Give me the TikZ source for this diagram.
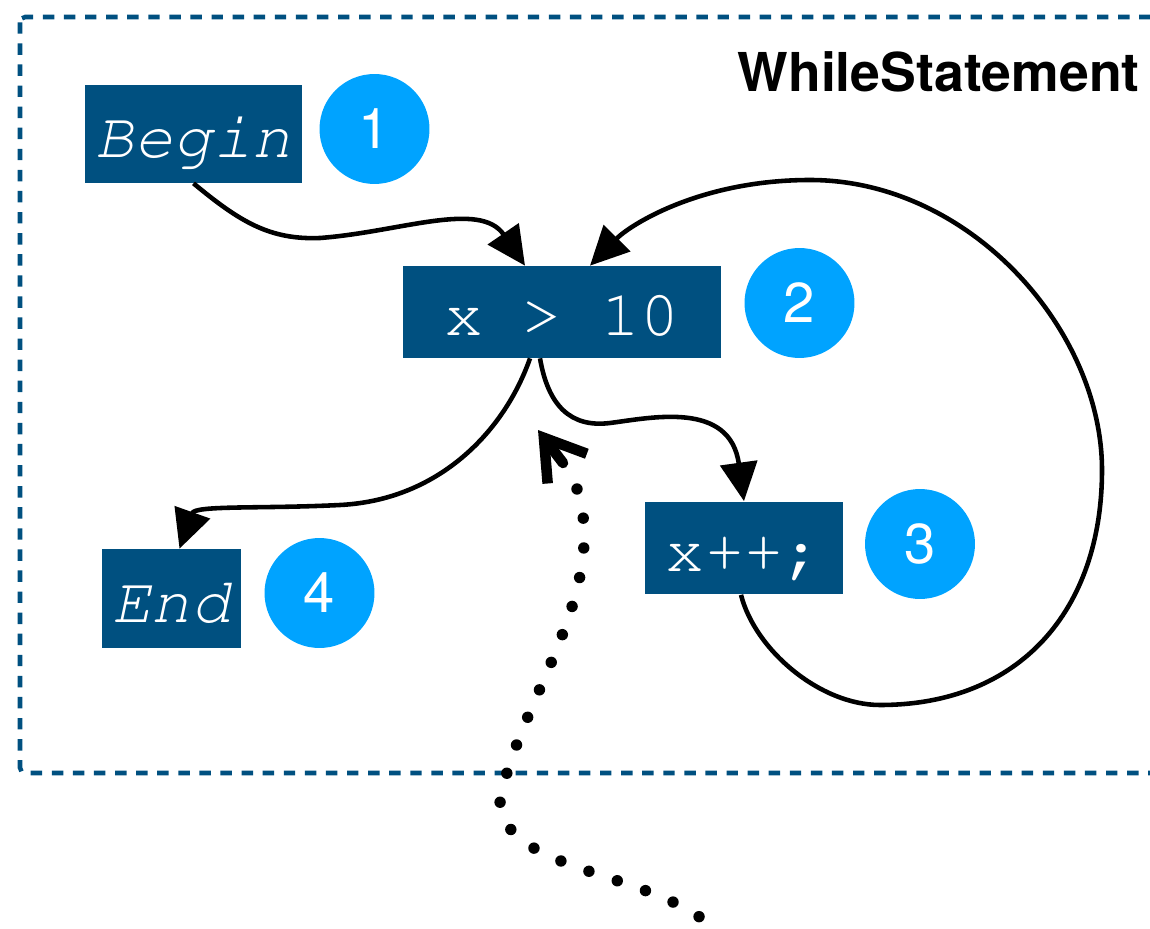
\documentclass[tikz,border=0pt]{standalone}
\usepackage[T1,TU]{fontenc}
\usepackage{fontspec}
\setmainfont{TeX Gyre Heros}
\usetikzlibrary{arrows.meta,calc}

\definecolor{boxblue}{RGB}{0,80,128}
\definecolor{numblue}{RGB}{0,163,255}

\newcommand{\stmtfont}{\fontencoding{T1}\fontfamily{pcr}\fontsize{37}{40}\selectfont}
\newcommand{\stepnumfont}{\fontsize{32}{36}\selectfont}
\newcommand{\scopefont}{\bfseries\fontsize{30.5}{34}\selectfont}

\tikzset{
  codebox/.style={fill=boxblue, text=white, inner sep=0pt, font=\stmtfont, text height=27pt, text depth=0pt},
  stepnum/.style={circle, fill=numblue, text=white, inner sep=0pt, minimum size=2.2cm, font=\stepnumfont},
  flow/.style={line width=2.6pt, -{Triangle[length=22pt,width=21pt]}},
  hint/.style={line width=6.5pt, line cap=round, dash pattern=on 0pt off 17pt},
  pointer/.style={line width=6pt, line cap=round, -{Straight Barb[length=22pt,width=28pt]}},
  frame/.style={boxblue, line width=2.6pt, dash pattern=on 6.5pt off 5.5pt, rounded corners=3pt}
}

\begin{document}
\begin{tikzpicture}[x=0.02cm,y=-0.02cm]
\useasboundingbox (0,0) rectangle (1150,929);

% Kehys
\draw[frame] (20,17) rectangle (1185,773);
\node[anchor=base east, inner sep=0pt, font=\scopefont] (scope) at (1140,92) {WhileStatement};

% Lauseet
\node[codebox, minimum width=4.34cm, minimum height=1.96cm] (Begin) at (193.5,134) {\itshape Begin};
\node[codebox, minimum width=6.36cm, minimum height=1.84cm] (cond) at (562,312) {x > 10};
\node[codebox, minimum width=3.96cm, minimum height=1.86cm] (inc) at (744,548) {x++;};
\node[codebox, minimum width=2.78cm, minimum height=1.98cm] (End) at (171.5,598.5) {\itshape End};

% Numerot
\foreach \k/\x/\y in {1/374.5/129, 2/799.5/303, 3/920/544, 4/319.5/593}
	\node[stepnum] (n\k) at (\x,\y) {\k};

% Kontrollivuo
\draw[flow] (Begin.south) .. controls (240,222) and (270,240) .. (320,238) .. controls (400,232) and (480,200) .. ($(cond.north)+(-37,0)$);
\draw[flow] ($(cond.south)+(-32,0)$) .. controls (505,430) and (440,500) .. (340,505) .. controls (260,509) and (195,505) .. ($(End.north)+(8,0)$);
\draw[flow] ($(cond.south)+(-22,0)$) .. controls (548,405) and (570,428) .. (610,423) .. controls (650,418) and (730,400) .. (inc.north);
\draw[flow] ($(inc.south)+(-3,0)$) .. controls (755,650) and (820,705) .. (880,705) .. controls (1020,705) and (1102,610) .. (1102,470) .. controls (1102,330) and (970,180) .. (810,180) .. controls (700,180) and (630,225) .. ($(cond.north)+(28,0)$);

% Osoitin
\coordinate (hintStart) at (730,950);
\coordinate (hintBend) at (500,800);
\coordinate (hintEnd) at (577,489);
\coordinate (hintShaft) at (563,463);
\coordinate (hintTip) at (538,430);
\draw[hint] (hintEnd) .. controls (610,590) and (520,700) .. (hintBend) .. controls (500,880) and (690,870) .. (hintStart);
\draw[pointer] (hintShaft) -- (hintTip);

\end{tikzpicture}
\end{document}
